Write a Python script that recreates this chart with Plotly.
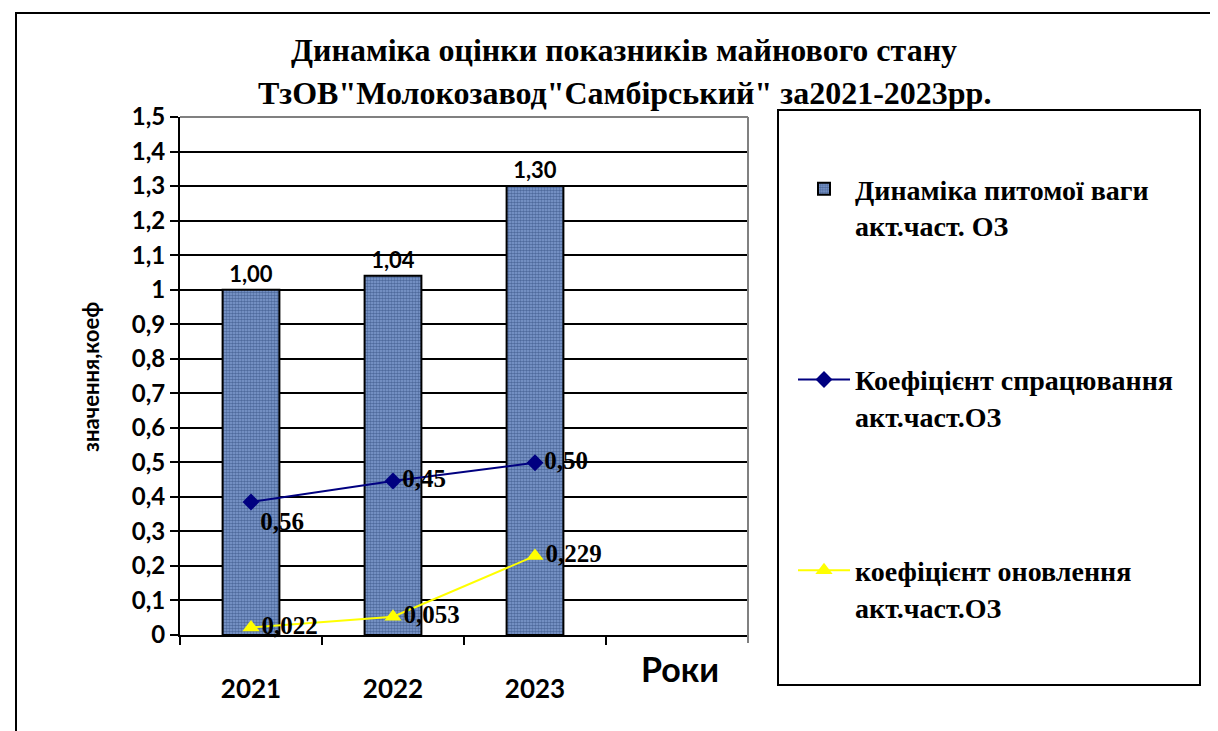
import plotly.graph_objects as go

W, H = 1218, 731
OFF = 8  # page body margin of the html

years = ["2021", "2022", "2023"]
share_values = [1.00, 1.04, 1.30]
wear_values = [0.385, 0.446, 0.499]
wear_labels = ["0,56", "0,45", "0,50"]
renew_values = [0.022, 0.053, 0.229]
renew_labels = ["0,022", "0,053", "0,229"]

name_bar = "Динаміка питомої ваги<br>акт.част. ОЗ"
name_wear = "Коефіцієнт спрацювання<br>акт.част.ОЗ"
name_renew = "коефіцієнт оновлення<br>акт.част.ОЗ"

SANS = "Lato, Calibri, Arial, sans-serif"
SERIF = "Liberation Serif, Times New Roman, serif"


def px(x):
    return (x - OFF) / W


def py(y):
    return 1 - (y - OFF) / H


fig = go.Figure()

fig.add_trace(go.Bar(
    x=years, y=share_values, name=name_bar, legendgroup="a",
    width=0.4,
    marker=dict(color="#829fd3",
                pattern=dict(shape=".", fgcolor="#1c3565", size=3, solidity=0.6),
                line=dict(color="black", width=2)),
    texttemplate="%{y:.2f}", textposition="outside",
    textfont=dict(family=SANS, size=22, color="black", weight="bold"),
    cliponaxis=False,
))

fig.add_trace(go.Scatter(
    x=years, y=wear_values, name=name_wear, legendgroup="b",
    mode="lines+markers+text",
    line=dict(color="#000080", width=2),
    marker=dict(symbol="diamond", size=13, color="#000080"),
    text=wear_labels,
    textposition=["bottom right", "middle right", "middle right"],
    textfont=dict(family=SERIF, size=25, color="black", weight="bold"),
    cliponaxis=False,
))

fig.add_trace(go.Scatter(
    x=years, y=renew_values, name=name_renew, legendgroup="c",
    mode="lines+markers+text",
    line=dict(color="#ffff00", width=2),
    marker=dict(symbol="triangle-up", size=15, color="#ffff00"),
    text=renew_labels,
    textposition="middle right",
    textfont=dict(family=SERIF, size=25, color="black", weight="bold"),
    cliponaxis=False,
))

shapes = [
    # outer border
    dict(type="rect", xref="paper", yref="paper", x0=px(16), x1=px(1213), y0=py(750), y1=py(13),
         line=dict(color="black", width=2)),
    # legend box
    dict(type="rect", xref="paper", yref="paper", x0=px(778), x1=px(1200), y0=py(685), y1=py(110),
         line=dict(color="black", width=2)),
    # top gray gridline
    dict(type="line", xref="paper", yref="paper", x0=px(180), x1=px(748), y0=py(117), y1=py(117),
         line=dict(color="#808080", width=2)),
    # right gray edge
    dict(type="line", xref="paper", yref="paper", x0=px(748), x1=px(748), y0=py(643), y1=py(117),
         line=dict(color="#808080", width=2)),
]

annotations = [
    dict(text="Динаміка оцінки показників майнового стану", x=px(624), y=py(50),
         xref="paper", yref="paper", showarrow=False, xanchor="center", yanchor="middle",
         font=dict(family=SERIF, size=32, color="black", weight="bold")),
    dict(text="ТзОВ\"Молокозавод\"Самбірський\" за2021-2023рр.", x=px(624), y=py(93),
         xref="paper", yref="paper", showarrow=False, xanchor="center", yanchor="middle",
         font=dict(family=SERIF, size=32, color="black", weight="bold")),
    dict(text="значення,коеф", x=px(90), y=py(377), textangle=-90,
         xref="paper", yref="paper", showarrow=False, xanchor="center", yanchor="middle",
         font=dict(family=SANS, size=22, color="black", weight="bold")),
    dict(text="Роки", x=px(680), y=py(668),
         xref="paper", yref="paper", showarrow=False, xanchor="center", yanchor="middle",
         font=dict(family=SANS, size=34, color="black", weight="bold")),
]

fig.update_layout(
    width=W, height=H,
    margin=dict(l=0, r=0, t=0, b=0),
    paper_bgcolor="white", plot_bgcolor="white",
    separators=", ",
    showlegend=True,
    legend=dict(x=px(793), y=py(164), xanchor="left", yanchor="top",
                traceorder="grouped", tracegroupgap=115, valign="top",
                itemwidth=52, bgcolor="rgba(0,0,0,0)", borderwidth=0,
                font=dict(family=SERIF, size=28, color="black", weight="bold")),
    shapes=shapes,
    annotations=annotations,
    xaxis=dict(domain=[px(180), px(748)], type="category", range=[-0.5, 3.5],
               tickson="boundaries", ticks="outside", ticklen=8, tickwidth=2, tickcolor="black",
               showline=True, linecolor="black", linewidth=2, showgrid=False,
               ticklabelstandoff=30,
               tickfont=dict(family=SANS, size=26, color="black", weight="bold"),
               automargin=False, fixedrange=True),
    yaxis=dict(domain=[py(635), py(117)], range=[0, 1.5], tick0=0, dtick=0.1,
               ticks="outside", ticklen=8, tickwidth=2, tickcolor="black",
               showline=True, linecolor="black", linewidth=2,
               showgrid=True, gridcolor="black", gridwidth=2, zeroline=False,
               tickfont=dict(family=SANS, size=24, color="black", weight="bold"),
               automargin=False, fixedrange=True),
)

fig.write_html("out.html")
